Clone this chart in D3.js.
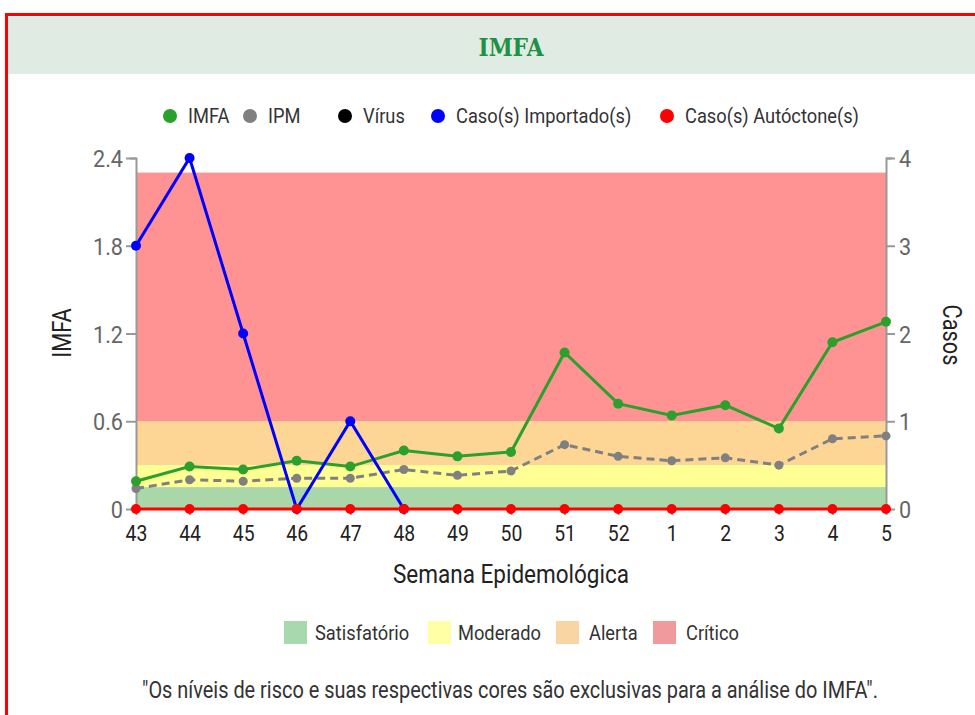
<!DOCTYPE html>
<html>
<head>
<meta charset="utf-8">
<script src="https://cdn.jsdelivr.net/npm/d3@7"></script>
<style>
  body { margin:0; background:#fff; font-family: Roboto, "Noto Sans", sans-serif; }
  svg text { font-family: Roboto, "Noto Sans", sans-serif; }
</style>
</head>
<body>
<svg id="chart" width="975" height="715"></svg>
<script>
// data
var semanas = ["43","44","45","46","47","48","49","50","51","52","1","2","3","4","5"];
var imfa = [0.19,0.29,0.27,0.33,0.29,0.40,0.36,0.39,1.07,0.72,0.64,0.71,0.55,1.14,1.28];
var ipm  = [0.14,0.20,0.19,0.21,0.21,0.27,0.23,0.26,0.44,0.36,0.33,0.35,0.30,0.48,0.50];
var importados = [3,4,2,0,1,0,null,null,null,null,null,null,null,null,null];
var autoctones = [0,0,0,0,0,0,0,0,0,0,0,0,0,0,0];
var imfaTicks = [0,0.6,1.2,1.8,2.4];
var casosTicks = [0,1,2,3,4];

var niveis = [
  {nome:"Satisfatório", de:0,    ate:0.15, cor:"#a9d7a9", leg:"#a8d8ad"},
  {nome:"Moderado",     de:0.15, ate:0.3,  cor:"#ffff94", leg:"#ffffa6"},
  {nome:"Alerta",       de:0.3,  ate:0.6,  cor:"#fdd595", leg:"#f8d5a3"},
  {nome:"Crítico",      de:0.6,  ate:2.3,  cor:"#ff9393", leg:"#f09a9d"}
];
var series = [
  {nome:"IMFA", cor:"#2ca02c"},
  {nome:"IPM", cor:"#808080"},
  {nome:"Vírus", cor:"#000000"},
  {nome:"Caso(s) Importado(s)", cor:"#0000ff"},
  {nome:"Caso(s) Autóctone(s)", cor:"#ff0000"}
];

// Roboto is wider than the condensed face in the picture, squeeze it
function condense(sel, k){
  sel.each(function(){
    var len = this.getComputedTextLength();
    d3.select(this).attr("textLength", len*k).attr("lengthAdjust","spacingAndGlyphs");
  });
}

var svg = d3.select("#chart");

// header + frame
svg.append("rect").attr("x",7).attr("y",17).attr("width",970).attr("height",57).attr("fill","#e0ebe4");
svg.append("text").attr("x",511).attr("y",56).attr("text-anchor","middle")
  .attr("font-size",25).attr("font-weight","bold").attr("fill","#1e9145")
  .style("font-family","'DejaVu Serif', serif").attr("textLength",65).attr("lengthAdjust","spacingAndGlyphs")
  .text("IMFA");
svg.append("rect").attr("x",6.5).attr("y",14.5).attr("width",980).attr("height",720)
  .attr("fill","none").attr("stroke","#ff0000").attr("stroke-width",3);

var x = d3.scalePoint().domain(semanas).range([136,886]);
var y = d3.scaleLinear().domain([0,2.4]).range([509,158]);
var y2 = d3.scaleLinear().domain([0,4]).range([509,158]);

// bands
svg.append("g").selectAll("rect").data(niveis).enter().append("rect")
  .attr("x",136).attr("width",750)
  .attr("y",function(d){return y(d.ate);})
  .attr("height",function(d){return y(d.de)-y(d.ate);})
  .attr("fill",function(d){return d.cor;});

// axes
var yAxis = d3.axisLeft(y).tickValues(imfaTicks).tickFormat(function(d){return d;}).tickSize(10).tickSizeOuter(6);
var gy = svg.append("g").attr("transform","translate(136,0)").call(yAxis);
var y2Axis = d3.axisRight(y2).tickValues(casosTicks).tickFormat(d3.format("d")).tickSize(9).tickSizeOuter(6);
var gy2 = svg.append("g").attr("transform","translate(886,0)").call(y2Axis);
var xAxis = d3.axisBottom(x).tickSize(6).tickSizeOuter(0);
var gx = svg.append("g").attr("transform","translate(0,509)").call(xAxis);

[gy,gy2].forEach(function(g){
  g.select(".domain").attr("stroke","#999").attr("stroke-width",2);
  g.selectAll(".tick line").attr("stroke","#999").attr("stroke-width",2);
  g.selectAll(".tick text").attr("fill","#666").attr("font-size",24);
});
gy.selectAll(".tick text").attr("x",-13).attr("dy","0.36em");
gy2.selectAll(".tick text").attr("x",13).attr("dy","0.36em");
gx.select(".domain").remove();
gx.selectAll(".tick line").attr("stroke","#999").attr("stroke-width",2);
gx.selectAll(".tick text").attr("fill","#222").attr("font-size",22).attr("y",16);
condense(gy.selectAll(".tick text"), 0.9);
condense(gy2.selectAll(".tick text"), 0.9);
condense(gx.selectAll(".tick text"), 0.88);

// axis titles
condense(svg.append("text").attr("transform","translate(71,333) rotate(-90)").attr("text-anchor","middle")
  .attr("font-size",25).attr("fill","#222").text("IMFA"), 0.87);
condense(svg.append("text").attr("transform","translate(943,335) rotate(90)").attr("text-anchor","middle")
  .attr("font-size",25).attr("fill","#222").text("Casos"), 0.87);
condense(svg.append("text").attr("x",511).attr("y",583).attr("text-anchor","middle")
  .attr("font-size",25).attr("fill","#222").text("Semana Epidemológica"), 0.9);

// lines
function drawLine(vals, sc, cor, w, dash, r){
  var pts = semanas.map(function(s,i){return {s:s, v:vals[i]};});
  var line = d3.line().defined(function(d){return d.v!==null;})
    .x(function(d){return x(d.s);}).y(function(d){return sc(d.v);});
  svg.append("path").datum(pts).attr("d",line).attr("fill","none")
    .attr("stroke",cor).attr("stroke-width",w).attr("stroke-dasharray",dash);
  svg.append("g").selectAll("circle").data(pts.filter(function(d){return d.v!==null;}))
    .enter().append("circle")
    .attr("cx",function(d){return x(d.s);}).attr("cy",function(d){return sc(d.v);})
    .attr("r",r).attr("fill",cor);
}
drawLine(ipm, y, "#808080", 3, "8,5", 4.5);
drawLine(imfa, y, "#2ca02c", 3, null, 5);
drawLine(importados, y2, "#0000ff", 3, null, 5);
drawLine(autoctones, y2, "#ff0000", 3, null, 5);

// top legend
var legX = [170,250,345,438,667];
var lg = svg.append("g").selectAll("g").data(series).enter().append("g")
  .attr("transform",function(d,i){return "translate("+legX[i]+",116)";});
lg.append("circle").attr("r",7).attr("fill",function(d){return d.cor;});
condense(lg.append("text").attr("x",18).attr("dy","0.35em").attr("font-size",21).attr("fill","#333")
  .text(function(d){return d.nome;}), 0.87);

// bottom legend
var legX2 = [284,428,556,653];
var legT2 = [315,458,589,686];
var lb = svg.append("g").selectAll("g").data(niveis).enter().append("g")
  .attr("transform",function(d,i){return "translate("+legX2[i]+",621)";});
lb.append("rect").attr("width",23).attr("height",23).attr("fill",function(d){return d.leg;});
condense(lb.append("text").attr("x",function(d,i){return legT2[i]-legX2[i];}).attr("y",12).attr("dy","0.35em")
  .attr("font-size",21).attr("fill","#333")
  .text(function(d){return d.nome;}), 0.87);

condense(svg.append("text").attr("x",510).attr("y",698).attr("text-anchor","middle")
  .attr("font-size",23).attr("fill","#333")
  .text("\"Os níveis de risco e suas respectivas cores são exclusivas para a análise do IMFA\"."), 0.866);
</script>
</body>
</html>
